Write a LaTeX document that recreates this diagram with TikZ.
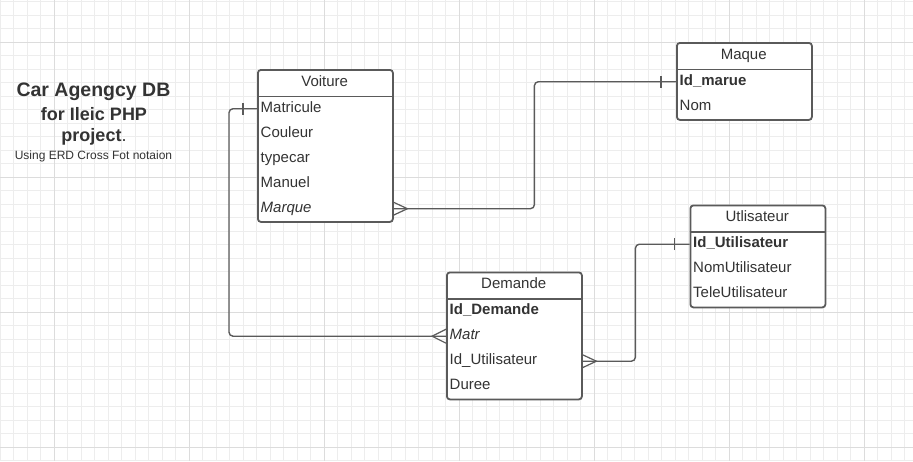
\documentclass[tikz,border=0pt]{standalone}
\usepackage{fontspec}
\setmainfont{Liberation Sans}
\definecolor{gridminor}{HTML}{EDEDED}
\definecolor{gridmajor}{HTML}{DCDCDC}
\definecolor{framecol}{HTML}{5A5A5A}
\definecolor{txtcol}{HTML}{333333}
\begin{document}
\begin{tikzpicture}[x=1pt,y=-1pt,
  entity/.style={draw=framecol, line width=1.8pt, rounded corners=3pt, minimum width=135pt, inner sep=0pt, anchor=north west, fill=white},
  hdr/.style={minimum width=135pt, minimum height=27pt, inner sep=0pt, text height=10.5pt, text depth=3.5pt, anchor=north west, text=txtcol, font=\fontsize{15}{18}\selectfont},
  row/.style={minimum height=25pt, text width=128pt, inner xsep=3.5pt, inner ysep=0pt, text height=10.5pt, text depth=3.5pt, align=left, anchor=north west, text=txtcol, font=\fontsize{15}{18}\selectfont},
  sepline/.style={draw=framecol, line width=1.8pt},
  conn/.style={draw=framecol, line width=1.4pt, rounded corners=4pt},
  cfmark/.style={draw=framecol, line width=1.2pt},
  ttl/.style={text=txtcol, inner sep=0pt, anchor=center}
]
\useasboundingbox (0,0) rectangle (913,461);
\fill[white] (0,0) rectangle (913,461);
% grid
\foreach \i in {0,...,68} {\draw[gridminor, line width=0.8pt] ({0.3+13.5*\i},0) -- ({0.3+13.5*\i},461);}
\foreach \i in {0,...,34} {\draw[gridminor, line width=0.8pt] (0,{1.8+13.5*\i}) -- (913,{1.8+13.5*\i});}
\foreach \i in {0,...,6} {\draw[gridmajor, line width=0.9pt] ({54.3+135*\i},0) -- ({54.3+135*\i},461);}
\foreach \i in {0,...,3} {\draw[gridmajor, line width=0.9pt] (0,{42.3+135*\i}) -- (913,{42.3+135*\i});}

% title
\node[ttl, font=\bfseries\fontsize{19.5}{22}\selectfont] (t1) at (93.5,92) {Car Agengcy DB};
\node[ttl, font=\bfseries\fontsize{18}{21}\selectfont] (t2) at (94,114) {for Ileic PHP};
\node[ttl, font=\fontsize{18}{21}\selectfont] (t3) at (94,137) {\textbf{project}.};
\node[ttl, font=\fontsize{12}{14}\selectfont] (t4) at (93.5,156) {Using ERD Cross Fot notaion};

% Voiture
\node[entity, minimum height=152pt] (voiture) at (257,69) {};
\node[hdr] (voiture-h) at (257,69) {Voiture};
\node[row] (voiture-mat) at (257,96) {Matricule};
\node[row] (voiture-cou) at (257,121) {Couleur};
\node[row] (voiture-typ) at (257,146) {typecar};
\node[row] (voiture-man) at (257,171) {Manuel};
\node[row] (voiture-mar) at (257,196) {\itshape Marque};
\draw[sepline] (voiture-h.south west) -- (voiture-h.south east);

% Maque
\node[entity, minimum height=77pt] (maque) at (676,42) {};
\node[hdr] (maque-h) at (676,42) {Maque};
\node[row] (maque-id) at (676,69) {\bfseries Id\_marue};
\node[row] (maque-nom) at (676,94) {Nom};
\draw[sepline] (maque-h.south west) -- (maque-h.south east);

% Utlisateur
\node[entity, minimum height=102pt] (utl) at (689.5,204.5) {};
\node[hdr] (utl-h) at (689.5,204.5) {Utlisateur};
\node[row] (utl-id) at (689.5,231.5) {\bfseries Id\_Utilisateur};
\node[row] (utl-nom) at (689.5,256.5) {NomUtilisateur};
\node[row] (utl-tel) at (689.5,281.5) {TeleUtilisateur};
\draw[sepline] (utl-h.south west) -- (utl-h.south east);

% Demande
\node[entity, minimum height=127pt] (dem) at (446,271.5) {};
\node[hdr] (dem-h) at (446,271.5) {Demande};
\node[row] (dem-id) at (446,298.5) {\bfseries Id\_Demande};
\node[row] (dem-matr) at (446,323.5) {\itshape Matr};
\node[row] (dem-idu) at (446,348.5) {Id\_Utilisateur};
\node[row] (dem-dur) at (446,373.5) {Duree};
\draw[sepline] (dem-h.south west) -- (dem-h.south east);

% connectors
\draw[conn] (voiture-mar.east) -- ++(142,0) |- (maque-id.west);
\draw[cfmark] ([yshift=-7pt]voiture-mar.east) -- ([xshift=15pt]voiture-mar.east) -- ([yshift=7pt]voiture-mar.east);
\draw[cfmark] ([xshift=-15pt,yshift=-6pt]maque-id.west) -- ([xshift=-15pt,yshift=6pt]maque-id.west);

\draw[conn] (voiture-mat.west) -- ++(-28,0) |- (dem-matr.west);
\draw[cfmark] ([xshift=-14pt,yshift=-6pt]voiture-mat.west) -- ([xshift=-14pt,yshift=6pt]voiture-mat.west);
\draw[cfmark] ([yshift=-7pt]dem-matr.west) -- ([xshift=-14pt]dem-matr.west) -- ([yshift=7pt]dem-matr.west);

\draw[conn] (dem-idu.east) -- ++(54,0) |- (utl-id.west);
\draw[cfmark] ([yshift=-7pt]dem-idu.east) -- ([xshift=15pt]dem-idu.east) -- ([yshift=7pt]dem-idu.east);
\draw[cfmark] ([xshift=-15pt,yshift=-6pt]utl-id.west) -- ([xshift=-15pt,yshift=6pt]utl-id.west);
\end{tikzpicture}
\end{document}
